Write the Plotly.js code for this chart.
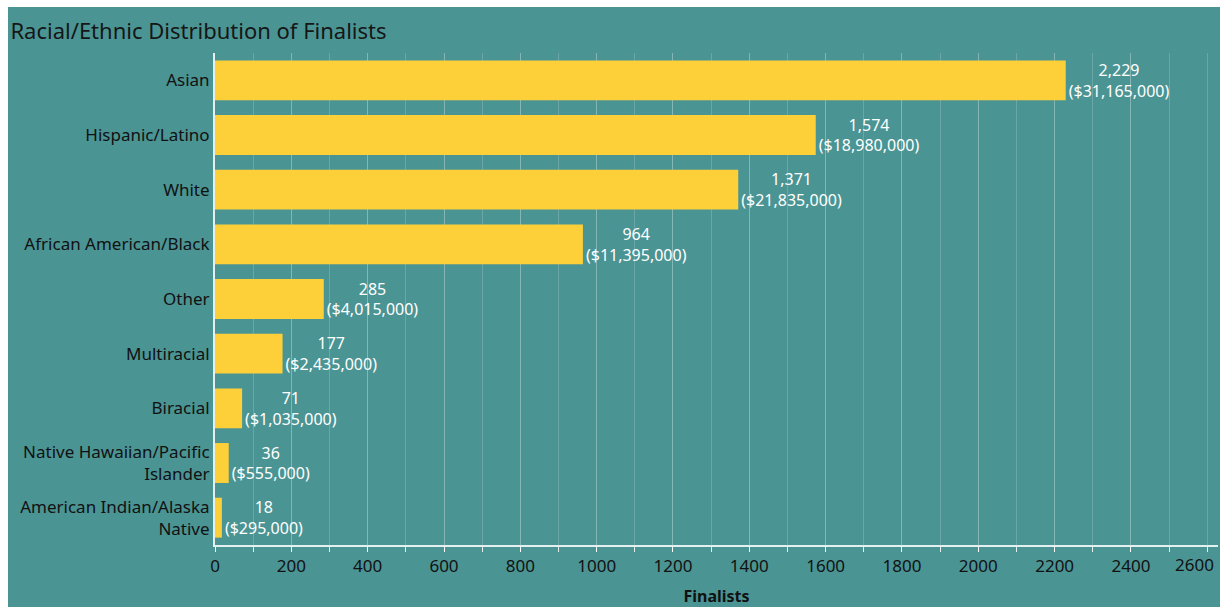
<!DOCTYPE html>
<html>
<head>
<meta charset="utf-8">
<script src="https://cdn.plot.ly/plotly-3.0.1.min.js"></script>
<style>
html,body{margin:0;padding:0;background:#ffffff;}
#chart{position:absolute;left:8px;top:7px;width:1212px;height:600px;}
</style>
</head>
<body>
<div id="chart"></div>
<script>
var categories = ["Asian","Hispanic/Latino","White","African American/Black","Other","Multiracial","Biracial","Native Hawaiian/Pacific<br>Islander","American Indian/Alaska<br>Native"];
var finalists = [2229,1574,1371,964,285,177,71,36,18];
var funding = [31165000,18980000,21835000,11395000,4015000,2435000,1035000,555000,295000];
var xTicks = [0,200,400,600,800,1000,1200,1400,1600,1800,2000,2200,2400];
var lastTick = 2600;

var trace = {
  type:'bar', orientation:'h',
  y: categories, x: finalists, customdata: funding,
  marker:{color:'#fdd03a'},
  width:0.73,
  texttemplate:'%{x:,}<br>(%{customdata:$,.0f})',
  textposition:'outside',
  constraintext:'none',
  cliponaxis:false,
  textfont:{family:'Noto Sans, sans-serif', size:16, color:'#ffffff'},
  hoverinfo:'none'
};

var layout = {
  paper_bgcolor:'#4b9494', plot_bgcolor:'#4b9494',
  margin:{l:207,r:2,t:46,b:62},
  showlegend:false,
  title:{text:'Racial/Ethnic Distribution of Finalists', x:0.002, xanchor:'left', y:0.96, yanchor:'middle',
    font:{family:'Noto Sans, sans-serif', size:22, color:'#161616'}},
  font:{family:'Noto Sans, sans-serif'},
  xaxis:{range:[0,2628], tickmode:'array', tickvals:xTicks, showgrid:true, gridcolor:'rgba(255,255,255,0.18)', gridwidth:1,
    showline:true, linecolor:'rgba(255,255,255,0.85)', linewidth:2, ticks:'outside', ticklen:5, tickcolor:'rgba(255,255,255,0.85)',
    minor:{dtick:100, tick0:0, ticks:'outside', ticklen:5, tickcolor:'rgba(255,255,255,0.85)', showgrid:true, gridcolor:'rgba(255,255,255,0.18)'},
    tickfont:{family:'Noto Sans, sans-serif', size:17, color:'#111111'}, zeroline:false,
    title:{text:'<b>Finalists</b>', standoff:16, font:{family:'Noto Sans, sans-serif', size:16, color:'#111111'}}},
  yaxis:{autorange:'reversed', showline:true, linecolor:'rgba(255,255,255,0.85)', linewidth:2, showgrid:false, ticks:'',
    ticklabelstandoff:0,
    tickfont:{family:'Noto Sans, sans-serif', size:17, color:'#111111'}},
  annotations:[{text:String(lastTick), x:lastTick, xref:'x', xanchor:'right', xshift:8,
    y:0, yref:'paper', yanchor:'top', yshift:-7, showarrow:false, borderpad:0,
    font:{family:'Noto Sans, sans-serif', size:17, color:'#111111'}}]
};

Plotly.newPlot('chart',[trace],layout,{displayModeBar:false, staticPlot:true});
</script>
</body>
</html>
